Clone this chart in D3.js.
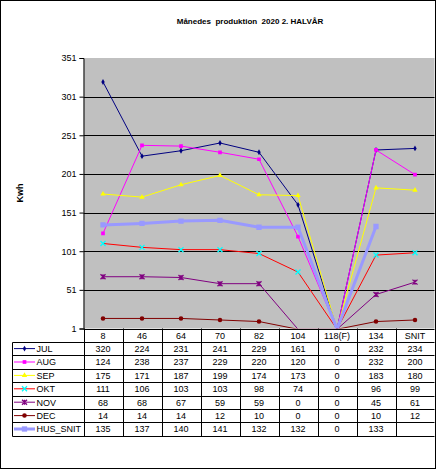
<!DOCTYPE html>
<html>
<head>
<meta charset="utf-8">
<script src="https://cdn.jsdelivr.net/npm/d3@7"></script>
<style>
  body { margin: 0; background: #fff; }
  svg { display: block; font-family: Arial, "Liberation Sans", sans-serif; }
  text { white-space: pre; }
</style>
</head>
<body>
<div id="chart"></div>
<script>
const categories = ['8', '46', '64', '70', '82', '104', '118(F)', '134', 'SNIT'];
const yTicks = [1, 51, 101, 151, 201, 251, 301, 351];
const seriesNames = ['JUL', 'AUG', 'SEP', 'OKT', 'NOV', 'DEC', 'HUS_SNIT'];
const jul = [320, 224, 231, 241, 229, 161, 0, 232, 234];
const aug = [124, 238, 237, 229, 220, 120, 0, 232, 200];
const sep = [175, 171, 187, 199, 174, 173, 0, 183, 180];
const okt = [111, 106, 103, 103, 98, 74, 0, 96, 99];
const nov = [68, 68, 67, 59, 59, 0, 0, 45, 61];
const dec = [14, 14, 14, 12, 10, 0, 0, 10, 12];
const husSnit = [135, 137, 140, 141, 132, 132, 0, 133, null];

const W = 436, H = 469;
const plot = { left: 83.5, right: 434.5, top: 58, bottom: 328.5 };
const tableRowH = 13.4;

const styles = [
    { line: '#000080', fill: '#000080', marker: 'diamond', width: 1 },
    { line: '#ff00ff', fill: '#ff00ff', marker: 'square', width: 1 },
    { line: '#ffff00', fill: '#ffff00', marker: 'triangle', width: 1 },
    { line: '#ff0000', fill: '#00ffff', marker: 'x', width: 1 },
    { line: '#800080', fill: '#800080', marker: 'star', width: 1 },
    { line: '#800000', fill: '#800000', marker: 'circle', width: 1 },
    { line: '#9999ff', fill: '#9999ff', marker: 'bigsquare', width: 3 }
];
const series = [jul, aug, sep, okt, nov, dec, husSnit].map((vals, i) => ({
    name: seriesNames[i], values: vals, style: styles[i]
}));

const svg = d3.select('#chart').append('svg')
    .attr('width', W)
    .attr('height', H);

svg.append('rect')
    .attr('x', 0.5).attr('y', 0.5)
    .attr('width', W - 1).attr('height', H - 1)
    .attr('fill', '#fff').attr('stroke', '#000');

svg.append('text')
    .attr('x', 250).attr('y', 24)
    .attr('text-anchor', 'middle')
    .attr('font-size', 8).attr('font-weight', 'bold')
    .text('Månedes  produktion  2020 2. HALVÅR');

const x = d3.scaleBand()
    .domain(categories)
    .range([plot.left, plot.right]);

const y = d3.scaleLinear()
    .domain([1, 351])
    .range([plot.bottom, plot.top]);

const cx = (i) => x(categories[i]) + x.bandwidth() / 2;

svg.append('rect')
    .attr('x', plot.left).attr('y', plot.top)
    .attr('width', plot.right - plot.left).attr('height', plot.bottom - plot.top)
    .attr('fill', '#c0c0c0');

// gridlines
svg.append('g')
    .selectAll('line')
    .data(yTicks.filter((t) => t > 1 && t < 351))
    .enter().append('line')
    .attr('x1', plot.left).attr('x2', plot.right)
    .attr('y1', (d) => Math.round(y(d)) + 0.5).attr('y2', (d) => Math.round(y(d)) + 0.5)
    .attr('stroke', '#000');

// y axis
const yAxis = svg.append('g')
    .attr('transform', `translate(${plot.left},0)`)
    .call(d3.axisLeft(y).tickValues(yTicks).tickSize(4).tickPadding(3));
yAxis.select('.domain').attr('stroke', '#000');
yAxis.selectAll('text').attr('font-size', 9).attr('fill', '#000')
    .attr('font-family', 'Arial, "Liberation Sans", sans-serif');

svg.append('text')
    .attr('transform', 'translate(23,193) rotate(-90)')
    .attr('text-anchor', 'middle')
    .attr('font-size', 9).attr('font-weight', 'bold')
    .text('Kwh');

svg.append('clipPath').attr('id', 'plotclip')
    .append('rect')
    .attr('x', plot.left).attr('y', plot.top - 6)
    .attr('width', plot.right - plot.left).attr('height', plot.bottom - plot.top + 6);

const markerPath = (type, r) => {
    switch (type) {
    case 'diamond': return d3.symbol(d3.symbolDiamond, r * r * 1.6)();
    case 'square': return d3.symbol(d3.symbolSquare, r * r * 2.2)();
    case 'bigsquare': return d3.symbol(d3.symbolSquare, r * r * 4.5)();
    case 'triangle': return d3.symbol(d3.symbolTriangle, r * r * 2)();
    case 'circle': return d3.symbol(d3.symbolCircle, r * r * 2.6)();
    case 'x': return `M${-r},${-r}L${r},${r}M${-r},${r}L${r},${-r}`;
    case 'star': return `M${-r},${-r}L${r},${r}M${-r},${r}L${r},${-r}M0,${-r}L0,${r}`;
    }
};
const drawMarker = (sel, st, r) => {
    const stroked = st.marker === 'x' || st.marker === 'star';
    sel.attr('d', markerPath(st.marker, r))
        .attr('fill', stroked ? 'none' : st.fill)
        .attr('stroke', stroked ? st.fill : 'none')
        .attr('stroke-width', stroked ? 1.3 : 0);
};

const lineGen = d3.line()
    .defined((d) => d.v !== null)
    .x((d) => cx(d.i))
    .y((d) => y(d.v));

const plotG = svg.append('g').attr('clip-path', 'url(#plotclip)');

series.forEach((s) => {
    const pts = s.values.map((v, i) => ({ v, i }));
    const g = plotG.append('g');
    g.append('path')
        .datum(pts)
        .attr('d', lineGen)
        .attr('fill', 'none')
        .attr('stroke', s.style.line)
        .attr('stroke-width', s.style.width);
    g.selectAll('path.mk')
        .data(pts.filter((d) => d.v !== null && d.v >= 1))
        .enter().append('path')
        .attr('class', 'mk')
        .attr('transform', (d) => `translate(${cx(d.i)},${y(d.v)})`)
        .call(drawMarker, s.style, 2.5);
});

// data table
const tbl = svg.append('g').attr('font-size', 9).attr('fill', '#000');
const tTop = plot.bottom;
const tBottom = tTop + tableRowH * (series.length + 1);
const legLeft = 12.5;

// category header
tbl.selectAll('text.cat')
    .data(categories)
    .enter().append('text')
    .attr('class', 'cat')
    .attr('x', (d, i) => cx(i))
    .attr('y', tTop + tableRowH / 2 + 3.3)
    .attr('text-anchor', 'middle')
    .text((d) => d);

// horizontal lines
const hLines = d3.range(series.length + 2).map((k) => tTop + k * tableRowH);
tbl.selectAll('line.h')
    .data(hLines)
    .enter().append('line')
    .attr('x1', (d, k) => (k === 0 ? plot.left : legLeft))
    .attr('x2', plot.right)
    .attr('y1', (d) => Math.round(d) + 0.5).attr('y2', (d) => Math.round(d) + 0.5)
    .attr('stroke', '#000');

// vertical lines
const vLines = categories.map((c) => x(c)).concat([plot.right]);
tbl.selectAll('line.v')
    .data(vLines)
    .enter().append('line')
    .attr('x1', (d) => Math.round(d) + 0.5).attr('x2', (d) => Math.round(d) + 0.5)
    .attr('y1', tTop).attr('y2', Math.round(tBottom) + 0.5)
    .attr('stroke', '#000');
tbl.append('line')
    .attr('x1', legLeft).attr('x2', legLeft)
    .attr('y1', Math.round(tTop + tableRowH) + 0.5).attr('y2', Math.round(tBottom) + 0.5)
    .attr('stroke', '#000');

series.forEach((s, r) => {
    const rowMid = tTop + tableRowH * (r + 1) + tableRowH / 2;
    tbl.append('line')
        .attr('x1', 14).attr('x2', 35)
        .attr('y1', rowMid).attr('y2', rowMid)
        .attr('stroke', s.style.line)
        .attr('stroke-width', s.style.width);
    tbl.append('path')
        .attr('transform', `translate(24.5,${rowMid})`)
        .call(drawMarker, s.style, 2.5);
    tbl.append('text')
        .attr('x', 36.5).attr('y', rowMid + 3.3)
        .text(s.name);
    tbl.selectAll(null)
        .data(s.values.map((v, i) => ({ v, i })).filter((d) => d.v !== null))
        .enter().append('text')
        .attr('x', (d) => cx(d.i))
        .attr('y', rowMid + 3.3)
        .attr('text-anchor', 'middle')
        .text((d) => d.v);
});
</script>
</body>
</html>
